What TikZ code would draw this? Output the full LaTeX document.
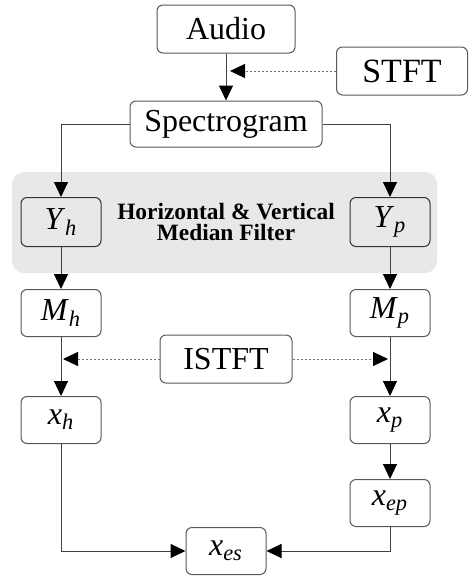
\documentclass[tikz,border=0pt]{standalone}
\usepackage{fontspec}
\setmainfont{Liberation Serif}
\usetikzlibrary{arrows.meta,positioning,backgrounds}
\tikzset{
	>={Triangle[length=7.5pt,width=7pt,color=black]},
	block/.style={
		draw=black!65,
		rounded corners=3pt,
		line width=0.5pt,
		fill=white,
		inner sep=0pt,
		font=\fontsize{16}{18}\selectfont
	},
	small/.style={
		block,
		minimum width=40pt,
		minimum height=23.5pt
	},
	flow/.style={draw=black!75, line width=0.5pt, ->},
	hint/.style={draw=black!55, line width=0.5pt, dash pattern=on 1pt off 1pt, ->}
}
\newcommand{\sig}[2]{\textit{#1}\textsubscript{\textit{#2}}}

\begin{document}
\begin{tikzpicture}[x=0.5pt,y=-0.5pt]
	\useasboundingbox (0,0) rectangle (468,579);
	% filter stage
	\fill [black!9, rounded corners=6pt] (12,172) rectangle (437,273);

	\node [block, minimum width=69pt, minimum height=24pt] (audio) at (226,29) {Audio};
	\node [block, minimum width=65.5pt, minimum height=24pt, font=\fontsize{17}{20}\selectfont] (stft) at (402,71) {STFT};
	\node [block, minimum width=96pt, minimum height=23pt] (spec) at (226,124) {Spectrogram};

	\node [small, fill=none, draw=black!80, minimum height=24.5pt] (yh) at (61,222) {\sig{Y}{h}};
	\node [small, fill=none, draw=black!80, minimum height=24.5pt] (yp) at (390,222) {\sig{Y}{p}};
	\node [font=\bfseries\fontsize{11.7}{10.5}\selectfont, align=center] (mf) at (226,222) {Horizontal \& Vertical\\Median Filter};

	\node [small] (mh) at (61,313) {\sig{M}{h}};
	\node [small] (mp) at (390,313) {\sig{M}{p}};
	\node [block, minimum width=66pt, minimum height=24pt] (istft) at (226,359) {ISTFT};
	\node [small] (xh) at (61,420) {\sig{x}{h}};
	\node [small] (xp) at (390,420) {\sig{x}{p}};
	\node [small] (xep) at (390,503) {\sig{x}{ep}};
	\node [small] (xes) at (226,551) {\sig{x}{es}};

	\coordinate (tap) at (audio.south |- stft.west);
	\draw [flow] (audio) -- (spec);
	\draw [hint, shorten >=2pt] (stft) -- (tap);
	\draw [flow] (spec.west) -| (yh);
	\draw [flow] (spec.east) -| (yp);
	\draw [flow] (yh) -- (mh);
	\draw [flow] (yp) -- (mp);
	\draw [flow] (mh) -- (xh);
	\draw [flow] (mp) -- (xp);
	\draw [hint, shorten >=1pt] (istft) -- (istft -| mh);
	\draw [hint, shorten >=1pt] (istft) -- (istft -| mp);
	\draw [flow] (xp) -- (xep);
	\draw [flow] (xh) |- (xes);
	\draw [flow] (xep) |- (xes);
\end{tikzpicture}
\end{document}
